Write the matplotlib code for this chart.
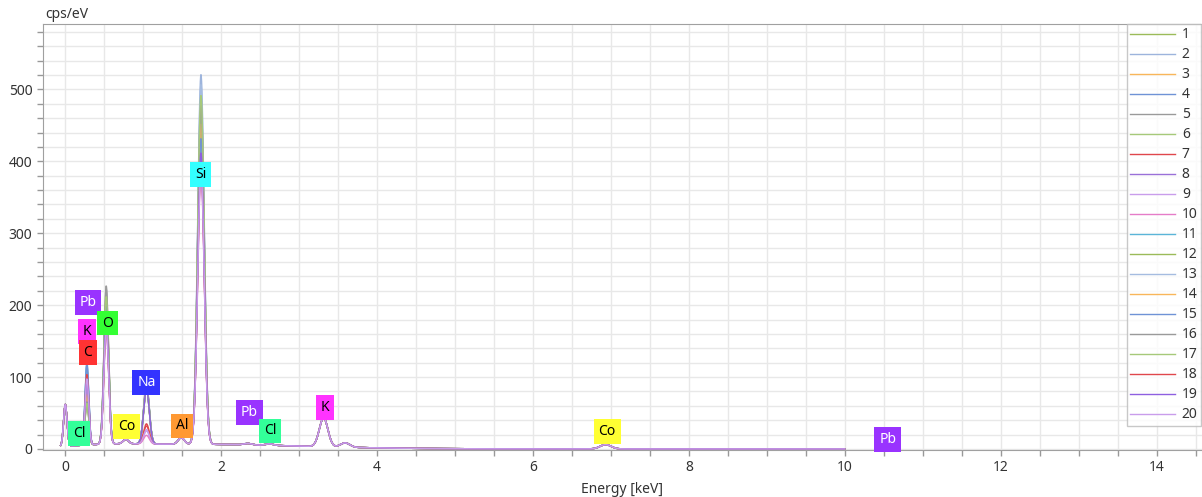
import numpy as np
import matplotlib
matplotlib.use("Agg")
import matplotlib.pyplot as plt

plt.rcParams['font.family'] = ['Noto Sans', 'DejaVu Sans']

# series names
series = [str(i) for i in range(1, 21)]

# line colours (legend order)
colors = ['#9BBB59', '#9DB4DC', '#F8B65A', '#6F93D6', '#9A9A9A', '#A6C97A',
          '#E0474C', '#9A70D8', '#C99DEB', '#E57CC8', '#5BB5D8',
          '#9BBB59', '#A5BCE0', '#F8B65A', '#6F93D6', '#9A9A9A', '#A6C97A',
          '#E0474C', '#8E5FE0', '#C99DEB']

# peak table: energy [keV], sigma [keV], height [cps/eV] (common to all series)
peak_energy = [0.0, 0.776, 1.487, 3.313, 3.59, 6.93, 2.34, 2.62]
peak_sigma = [0.022, 0.035, 0.04, 0.055, 0.06, 0.07, 0.05, 0.05]
peak_height = [58, 6, 9, 40, 6, 6, 2, 2]

# broad background (bremsstrahlung)
bg_energy = [1.6, 0.6]
bg_sigma = [1.4, 0.35]
bg_height = [6.5, 2.0]

# per-series heights of the main peaks
c_energy, c_sigma = 0.277, 0.024
c_height = [60, 90, 75, 115, 70, 55, 100, 85, 95, 105, 110, 65, 80, 70, 112, 60, 58, 98, 88, 92]
o_energy, o_sigma = 0.525, 0.03
o_height = [200, 190, 185, 195, 220, 205, 170, 180, 165, 160, 190, 200, 185, 175, 195, 215, 205, 165, 175, 160]
na_energy, na_sigma = 1.041, 0.036
na_height = [78, 80, 76, 82, 84, 79, 25, 76, 18, 12, 75, 79, 81, 77, 80, 83, 80, 28, 76, 20]
si_energy, si_sigma = 1.74, 0.042
si_height = [470, 514, 455, 430, 480, 440, 395, 410, 385, 375, 420, 465, 500, 445, 425, 470, 485, 390, 405, 380]

# element labels on the plot
label_text = ['Pb', 'K', 'C', 'O', 'Cl', 'Co', 'Na', 'Al', 'Si', 'Pb', 'Cl', 'K', 'Co', 'Pb']
label_x = [0.29, 0.28, 0.29, 0.54, 0.18, 0.79, 1.04, 1.50, 1.74, 2.36, 2.63, 3.33, 6.95, 10.55]
label_y = [204, 163, 134, 175, 21, 31, 92, 32, 382, 51, 25, 58, 24, 13]
label_face = {'Pb': '#9933FF', 'K': '#FF33FF', 'C': '#FF3333', 'O': '#33FF33',
              'Cl': '#33FF99', 'Co': '#FFFF33', 'Na': '#3333FF', 'Al': '#FF9933',
              'Si': '#33FFFF'}
label_white = ['Pb', 'Na']


def gauss(e, mu, s, h):
  return h * np.exp(-0.5 * ((e - mu) / s) ** 2)


energy = np.arange(-0.06, 10.0, 0.004)

fig = plt.figure(figsize=(12.02, 4.97), dpi=100)
ax = fig.add_axes([42.7 / 1202, 1 - 450 / 497, 1 - 42.7 / 1202, (450 - 24) / 497])

for i in range(len(series)):
  y = np.zeros_like(energy)
  for mu, s, h in zip(bg_energy, bg_sigma, bg_height):
    y += gauss(energy, mu, s, h)
  for mu, s, h in zip(peak_energy, peak_sigma, peak_height):
    y += gauss(energy, mu, s, h)
  y += gauss(energy, c_energy, c_sigma, c_height[i])
  y += gauss(energy, o_energy, o_sigma, o_height[i])
  y += gauss(energy, na_energy, na_sigma, na_height[i])
  y += gauss(energy, si_energy, si_sigma, si_height[i])
  ax.plot(energy, y, color=colors[i], lw=1.0, label=series[i])

for t, x, yv in zip(label_text, label_x, label_y):
  tc = 'white' if t in label_white else 'black'
  ax.text(x, yv, t, ha='center', va='center', fontsize=10, color=tc,
          bbox=dict(boxstyle='square,pad=0.35', fc=label_face[t], ec='none'))

ax.set_xlim(-0.29, 14.58)
ax.set_ylim(-1.5, 591)
ax.set_xticks(np.arange(0, 15, 2))
ax.set_xticks(np.arange(0, 14.6, 0.5), minor=True)
ax.set_yticks(np.arange(0, 501, 100))
ax.set_yticks(np.arange(0, 591, 20), minor=True)
ax.grid(True, which='both', color='#E8E8E8', lw=1.0)
ax.set_axisbelow(True)
ax.tick_params(which='both', direction='out', color='#999999', labelsize=10,
               labelcolor='#333333', length=4, width=1)
for sp in ax.spines.values():
  sp.set_color('#A0A0A0')
ax.spines['right'].set_visible(False)

ax.set_xlabel('Energy [keV]', fontsize=10, color='#333333', labelpad=5)
fig.text(45 / 1202, 1 - 15 / 497, 'cps/eV', fontsize=10, color='#333333',
         ha='left', va='center')

leg = ax.legend(loc='upper left', bbox_to_anchor=(1127 / 1202, 1 - 24 / 497),
                bbox_transform=fig.transFigure, fontsize=10, frameon=True,
                fancybox=False, borderaxespad=0, borderpad=0.25,
                handlelength=3.2, handletextpad=0.5, labelspacing=0.36)
leg.get_frame().set_edgecolor('#BBBBBB')
leg.get_frame().set_linewidth(1.0)
for txt in leg.get_texts():
  txt.set_color('#333333')

plt.savefig('out.png', dpi=100)
